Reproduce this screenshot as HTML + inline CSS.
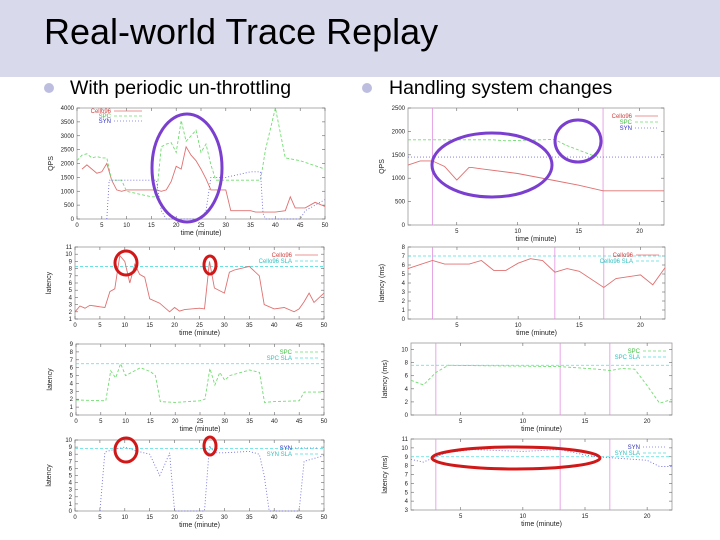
<!DOCTYPE html>
<html><head><meta charset="utf-8">
<style>
body{margin:0;width:720px;height:540px;overflow:hidden;background:#fff;font-family:"Liberation Sans",sans-serif;}
#hdr{position:absolute;left:0;top:0;width:720px;height:77px;background:#d9d9ec;}
#title{position:absolute;left:44px;top:11px;font-size:36px;color:#000;}
.bul{position:absolute;width:10px;height:10px;border-radius:5px;background:#bdbde0;}
.btxt{position:absolute;font-size:19.5px;color:#000;}
svg{position:absolute;left:0;top:0;}
</style></head><body>
<div id="hdr"></div>
<div id="title">Real-world Trace Replay</div>
<div class="bul" style="left:44px;top:83px"></div>
<div class="btxt" style="left:70px;top:77px">With periodic un-throttling</div>
<div class="bul" style="left:362px;top:83px"></div>
<div class="btxt" style="left:389px;top:77px">Handling system changes</div>
<svg id="s" width="720" height="540"></svg>
<script>
// ---- data ----
const lqCelloX=[1,2,3,4,5,6,7,8,9,10,15,16,17,18,19,20,21,22,23,24,25,26,27,30,31,35,36,38,40,42,43,44,46,48,50];
const lqCelloY=[1800,1950,1800,1650,1700,2000,1400,1050,1000,1050,1050,1050,1000,1050,1350,1900,1800,2600,2300,2100,1800,1450,1050,1050,300,300,250,250,250,300,800,400,400,600,450];
const lqSpcX=[0,1,2,3,4,5,6,7,8,9,10,15,16,17,18,19,20,21,22,23,24,25,26,27,28,29,30,35,37,38,40,42,45,50];
const lqSpcY=[2100,2300,2350,2200,2250,2200,2200,1400,1400,1400,1000,800,800,2600,2700,2750,2400,3550,2800,3000,3200,2400,2700,1950,1400,1400,1400,1400,1400,2500,4000,2200,2100,1800];
const lqSynX=[6,6.5,7,10,15,16,17,18,19,20,25,26,27,30,35,37,37.5,38,45,46,50];
const lqSynY=[0,1400,1400,1400,1400,1400,300,0,0,0,0,300,1500,1500,1700,1700,200,0,0,300,700];
const llCelloX=[0,1,2,3,4,5,6,7,8,9,10,11,12,13,14,15,17,19,20,21,22,25,26,27,28,30,31,32,35,37,38,40,42,44,45,46,47,48,50];
const llCelloY=[2,2.8,2.5,2.9,2.8,2.7,2.6,4.8,5.2,9.8,9.0,6.0,8.6,7.2,6.8,3.8,3.2,2.0,2.6,2.1,2.3,2.5,2.4,9.0,5.3,4.6,7.5,7.8,8.3,7.0,3.0,2.4,2.6,2.0,2.4,3.4,4.6,3.3,4.6];
const llSpcX=[0,6,7,8,9,10,13,15,16,17,20,25,26,27,28,29,30,31,35,37,38,40,45,46,50];
const llSpcY=[1.9,1.8,5.6,4.7,6.5,5.0,6.0,5.5,5.0,1.7,1.6,1.8,2.0,5.9,3.8,5.4,4.4,5.0,5.7,5.4,1.6,1.7,1.8,2.9,2.9];
const llSynX=[5,6,7,10,12,15,16,17,18,19,19.5,20,26,27,28,30,35,37,38,39,45,46,50];
const llSynY=[0,8.3,8.5,9.0,8.5,8.0,6.5,5.0,6.5,8.2,4,0,0,9.2,8.2,8.2,8.4,8.0,5,0,0,7.0,7.8];
const rqCelloX=[1,2,3,4,5,6,6.2,7,10,13,15,17,22];
const rqCelloY=[1280,1370,1370,1250,960,1230,1230,1200,1100,950,850,730,730];
const rqSpcX=[1,8,9,13,14,15,16,16.5];
const rqSpcY=[1820,1820,1800,1830,1700,1600,1500,1470];
const rqSynX=[1,22];
const rqSynY=[1450,1450];
const rlCelloX=[1,3,4,6,7,8,9,10,11,12,13,14,15,17,18,20,21,22];
const rlCelloY=[5.6,6.5,6.1,6.1,6.5,5.4,5.4,6.2,6.7,6.5,5.2,5.6,5.3,3.5,4.5,4.9,3.8,5.7];
const rlSpcX=[1,2,3,4,13,16,17,18,19,20,21,22];
const rlSpcY=[5.3,4.6,6.5,7.6,7.4,7.0,6.8,7.1,7.0,4.5,1.8,2.4];
const rlSynX=[1,2,3,4,6,8,10,13,15,16,20,21,22];
const rlSynY=[8.7,8.4,9.0,9.5,9.8,9.7,9.6,9.8,9.2,9.0,8.6,7.9,7.9];
const slaLeft=[8.3,6.5,8.8];
const slaRight=[7,7.6,9.0];
const changeTimes=[3,13,17];

const NS='http://www.w3.org/2000/svg';
const svg=document.getElementById('s');
function mk(tag,attrs,name,parent){const e=document.createElementNS(NS,tag);for(const k in attrs)e.setAttribute(k,attrs[k]);


(parent||svg).appendChild(e);return e;}
const COL={cello:'#e07070',spc:'#70dd70',syn:'#7070e0',sla:'#50dede'};
const DASH={cello:'none',spc:'3,2',syn:'1,2',sla:'3,2'};
function chart(c){
  const g=mk('g',{},c.name);
  const X=v=>c.x0+(v-c.xmin)/(c.xmax-c.xmin)*(c.x1-c.x0);
  const Y=v=>c.y1-(v-c.ymin)/(c.ymax-c.ymin)*(c.y1-c.y0);
  mk('rect',{x:c.x0,y:c.y0,width:c.x1-c.x0,height:c.y1-c.y0,fill:'#fff',stroke:'#999','stroke-width':0.8},'plot-frame',g);
  c.xt.forEach(t=>{mk('line',{x1:X(t),x2:X(t),y1:c.y1,y2:c.y1-3,stroke:'#666','stroke-width':0.6},'x-tick',g);
    mk('line',{x1:X(t),x2:X(t),y1:c.y0,y2:c.y0+3,stroke:'#666','stroke-width':0.6},'x-tick',g);
    const t2=mk('text',{x:X(t),y:c.y1+8,'font-size':6,'text-anchor':'middle',fill:'#222'},'x-tick-label',g);t2.textContent=t;});
  c.yt.forEach(t=>{mk('line',{x1:c.x0,x2:c.x0+3,y1:Y(t),y2:Y(t),stroke:'#666','stroke-width':0.6},'y-tick',g);
    mk('line',{x1:c.x1,x2:c.x1-3,y1:Y(t),y2:Y(t),stroke:'#666','stroke-width':0.6},'y-tick',g);
    const t2=mk('text',{x:c.x0-3,y:Y(t)+2,'font-size':6,'text-anchor':'end',fill:'#222'},'y-tick-label',g);t2.textContent=t;});
  (c.vlines||[]).forEach(v=>mk('line',{x1:X(v),x2:X(v),y1:c.y0,y2:c.y1,stroke:'#e090e0','stroke-width':0.8},'change-marker',g));
  if(c.sla!==undefined) mk('line',{x1:c.x0,x2:c.x1,y1:Y(c.sla),y2:Y(c.sla),stroke:COL.sla,'stroke-width':0.8,'stroke-dasharray':DASH.sla},'sla-line',g);
  c.series.forEach(s=>{
    const pts=s.xs.map((v,i)=>X(v).toFixed(1)+','+Y(Math.max(c.ymin,s.ys[i])).toFixed(1)).join(' ');
    mk('polyline',{points:pts,fill:'none',stroke:COL[s.k],'stroke-width':0.9,'stroke-dasharray':DASH[s.k]},'series-'+s.k,g);
  });
  c.legend.forEach((L,i)=>{const ly=c.y0+8+i*6;
    const t=mk('text',{x:c.x1-32,y:ly+2,'font-size':6,'text-anchor':'end',fill:L[1]},'legend-label',g);t.textContent=L[0];
    mk('line',{x1:c.x1-29,x2:c.x1-6,y1:ly,y2:ly,stroke:COL[L[2]],'stroke-width':0.8,'stroke-dasharray':DASH[L[2]]},'legend-swatch',g);});
  const xl=mk('text',{x:(c.x0+c.x1)/2,y:c.y1+16,'font-size':7,'text-anchor':'middle',fill:'#222'},'x-axis-title',g);xl.textContent='time (minute)';
  const yx=c.x0-24, yy=(c.y0+c.y1)/2;
  const yl=mk('text',{x:yx,y:yy,'font-size':7,'text-anchor':'middle',fill:'#222',transform:`rotate(-90 ${yx} ${yy})`},'y-axis-title',g);yl.textContent=c.ylab;
  return {X,Y};
}
const lxt=[0,5,10,15,20,25,30,35,40,45,50], rxt=[5,10,15,20];
const legQ=[['Cello96','#d04040','cello'],['SPC','#40c040','spc'],['SYN','#3030c0','syn']];
chart({name:'left-qps-chart',x0:77,x1:325,y0:108,y1:219,xmin:0,xmax:50,ymin:0,ymax:4000,xt:lxt,yt:[0,500,1000,1500,2000,2500,3000,3500,4000],ylab:'QPS',
 series:[{k:'cello',xs:lqCelloX,ys:lqCelloY},{k:'spc',xs:lqSpcX,ys:lqSpcY},{k:'syn',xs:lqSynX,ys:lqSynY}],legend:[]});
[['Cello96','#d04040','cello'],['SPC','#40c040','spc'],['SYN','#3030c0','syn']].forEach((L,i)=>{
 const t=mk('text',{x:111,y:113+i*5,'font-size':6,'text-anchor':'end',fill:L[1]},'legend-label');t.textContent=L[0];
 mk('line',{x1:114,x2:142,y1:111+i*5,y2:111+i*5,stroke:COL[L[2]],'stroke-width':0.8,'stroke-dasharray':DASH[L[2]]},'legend-swatch');});
chart({name:'left-cello-latency-chart',x0:75,x1:324,y0:247,y1:319,xmin:0,xmax:50,ymin:1,ymax:11,xt:lxt,yt:[1,2,3,4,5,6,7,8,9,10,11],ylab:'latency',sla:slaLeft[0],
 series:[{k:'cello',xs:llCelloX,ys:llCelloY}],legend:[['Cello96','#d04040','cello'],['Cello96 SLA','#30c0c0','sla']]});
chart({name:'left-spc-latency-chart',x0:76,x1:324,y0:344,y1:415,xmin:0,xmax:50,ymin:0,ymax:9,xt:lxt,yt:[0,1,2,3,4,5,6,7,8,9],ylab:'latency',sla:slaLeft[1],
 series:[{k:'spc',xs:llSpcX,ys:llSpcY}],legend:[['SPC','#40c040','spc'],['SPC SLA','#30c0c0','sla']]});
chart({name:'left-syn-latency-chart',x0:75,x1:324,y0:440,y1:511,xmin:0,xmax:50,ymin:0,ymax:10,xt:lxt,yt:[0,1,2,3,4,5,6,7,8,9,10],ylab:'latency',sla:slaLeft[2],
 series:[{k:'syn',xs:llSynX,ys:llSynY}],legend:[['SYN','#3030c0','syn'],['SYN SLA','#30c0c0','sla']]});
chart({name:'right-qps-chart',x0:408,x1:664,y0:108,y1:225,xmin:1,xmax:22,ymin:0,ymax:2500,xt:rxt,yt:[0,500,1000,1500,2000,2500],ylab:'QPS',vlines:[3,17],
 series:[{k:'cello',xs:rqCelloX,ys:rqCelloY},{k:'spc',xs:rqSpcX,ys:rqSpcY},{k:'syn',xs:rqSynX,ys:rqSynY}],legend:legQ});
chart({name:'right-cello-latency-chart',x0:408,x1:665,y0:247,y1:319,xmin:1,xmax:22,ymin:0,ymax:8,xt:rxt,yt:[0,1,2,3,4,5,6,7,8],ylab:'latency (ms)',sla:slaRight[0],vlines:changeTimes,
 series:[{k:'cello',xs:rlCelloX,ys:rlCelloY}],legend:[['Cello96','#d04040','cello'],['Cello96 SLA','#30c0c0','sla']]});
chart({name:'right-spc-latency-chart',x0:411,x1:672,y0:343,y1:415,xmin:1,xmax:22,ymin:0,ymax:11,xt:rxt,yt:[0,2,4,6,8,10],ylab:'latency (ms)',sla:slaRight[1],vlines:changeTimes,
 series:[{k:'spc',xs:rlSpcX,ys:rlSpcY}],legend:[['SPC','#40c040','spc'],['SPC SLA','#30c0c0','sla']]});
chart({name:'right-syn-latency-chart',x0:411,x1:672,y0:439,y1:510,xmin:1,xmax:22,ymin:3,ymax:11,xt:rxt,yt:[3,4,5,6,7,8,9,10,11],ylab:'latency (ms)',sla:slaRight[2],vlines:changeTimes,
 series:[{k:'syn',xs:rlSynX,ys:rlSynY}],legend:[['SYN','#3030c0','syn'],['SYN SLA','#30c0c0','sla']]});
const P='#7b3fd0',R='#d01818';
[[187,168,35,54,P,'highlight-unthrottle'],[492,165,60,32,P,'highlight-change'],[578,141,23,21,P,'highlight-spc-drop'],
 [126,263,11,12,R,'highlight-cello-peak1'],[210,265,6,9,R,'highlight-cello-peak2'],
 [126,450,11,12,R,'highlight-syn-peak1'],[210,446,6,9,R,'highlight-syn-peak2'],[516,458,84,11,R,'highlight-syn-stable']
].forEach(e=>mk('ellipse',{cx:e[0],cy:e[1],rx:e[2],ry:e[3],fill:'none',stroke:e[4],'stroke-width':3},e[5]));
</script>
</body></html>
